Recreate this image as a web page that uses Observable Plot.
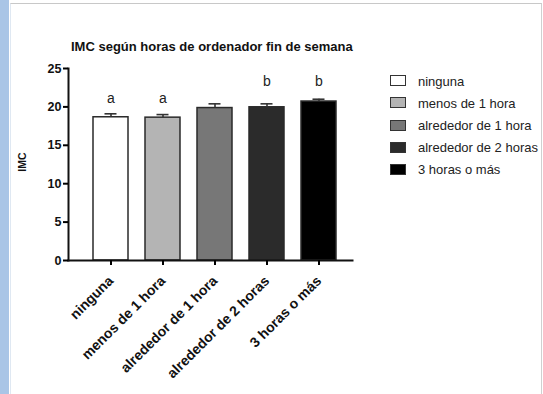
<!DOCTYPE html>
<html><head><meta charset="utf-8">
<script src="https://cdn.jsdelivr.net/npm/d3@7"></script>
<script src="https://cdn.jsdelivr.net/npm/@observablehq/plot@0.6"></script>
<style>
html,body{margin:0;padding:0;background:#fff;}
#wrap{position:relative;width:543px;height:394px;overflow:hidden;font-family:"Liberation Sans",Arial,sans-serif;background:#fff;}
#strip{position:absolute;left:0;top:0;width:9px;height:394px;background:#a9c5e6;}
#border{position:absolute;left:10px;top:3px;width:530px;height:400px;border-top:1.5px solid #c8c8c8;border-right:1.5px solid #d0d0d0;border-left:1px solid #dfe8f2;}
#title{position:absolute;left:71px;top:39px;font-weight:bold;font-size:13px;color:#111;white-space:nowrap;}
#ylab{position:absolute;left:22px;top:162px;font-weight:bold;font-size:10.5px;transform:translate(-50%,-50%) rotate(-90deg);color:#111;}
.leg{position:absolute;left:390px;font-size:13px;color:#222;white-space:nowrap;}
.leg span.box{position:absolute;left:0;width:14px;height:9px;border:1.2px solid #333;}
.leg span.t{position:absolute;left:28px;transform:translateY(-50%);}
#chart{position:absolute;left:0;top:0;}
</style></head>
<body><div id="wrap"><div id="strip"></div><div id="border"></div><div id="chart"></div>
<div id="title">IMC según horas de ordenador fin de semana</div>
<div id="ylab">IMC</div></div>
<script>
const categories = ["ninguna", "menos de 1 hora", "alrededor de 1 hora", "alrededor de 2 horas", "3 horas o más"];
const imc = [18.65, 18.6, 19.85, 19.95, 20.7];
const sem = [0.45, 0.4, 0.55, 0.45, 0.3];
const colors = ["#ffffff", "#b4b4b4", "#777777", "#2b2b2b", "#000000"];
const letters = ["a", "a", "", "b", "b"];
const letterY = [21.1, 21.1, null, 23.3, 23.3];
const yTicks = [0, 5, 10, 15, 20, 25];

const data = categories.map((c, i) => ({cat: c, v: imc[i], top: imc[i] + sem[i], letter: letters[i], ly: letterY[i]}));

const chart = Plot.plot({
  width: 543, height: 394,
  marginTop: 68, marginBottom: 134, marginLeft: 68, marginRight: 191,
  style: {fontFamily: "Liberation Sans, Arial, sans-serif", background: "transparent"},
  x: {type: "band", domain: categories, range: [91.5, 336.5], paddingInner: 0.333, paddingOuter: 0, label: null},
  y: {domain: [0, 25], label: null},
  color: {domain: categories, range: colors},
  marks: [
    Plot.barY(data, {x: "cat", y: "v", fill: "cat", stroke: "#2a2a2a", strokeWidth: 1.5}),
    Plot.ruleX(data, {x: "cat", y1: "v", y2: "top", stroke: "#333", strokeWidth: 1.6}),
    Plot.tickY(data, {x: "cat", y: "top", stroke: "#333", strokeWidth: 1.6, insetLeft: 11.5, insetRight: 11.5}),
    Plot.text(data.filter(d => d.letter), {x: "cat", y: "ly", text: "letter", fontSize: 14, fill: "#222"}),
    Plot.frame({anchor: "left", strokeWidth: 2, stroke: "#111"}),
    Plot.frame({anchor: "bottom", strokeWidth: 2, stroke: "#111"}),
    Plot.axisY({ticks: yTicks, tickSize: 5, tickPadding: 2, strokeWidth: 2, fontSize: 12.5, fontWeight: "bold", fill: "#111", label: null}),
    Plot.axisX({tickSize: 5, tickPadding: 13, strokeWidth: 2, tickRotate: -45, fontSize: 14, fontWeight: "bold", fill: "#111", label: null})
  ]
});
document.getElementById("chart").appendChild(chart);

const wrap = document.getElementById("wrap");
const legY = [80.7, 102.8, 125, 147.2, 169.3];
categories.forEach((c, i) => {
  const d = document.createElement("div");
  d.className = "leg";
  d.style.top = legY[i] + "px";
  d.innerHTML = `<span class="box" style="top:-5.5px;background:${colors[i]}"></span><span class="t">${c}</span>`;
  wrap.appendChild(d);
});
</script></body></html>
